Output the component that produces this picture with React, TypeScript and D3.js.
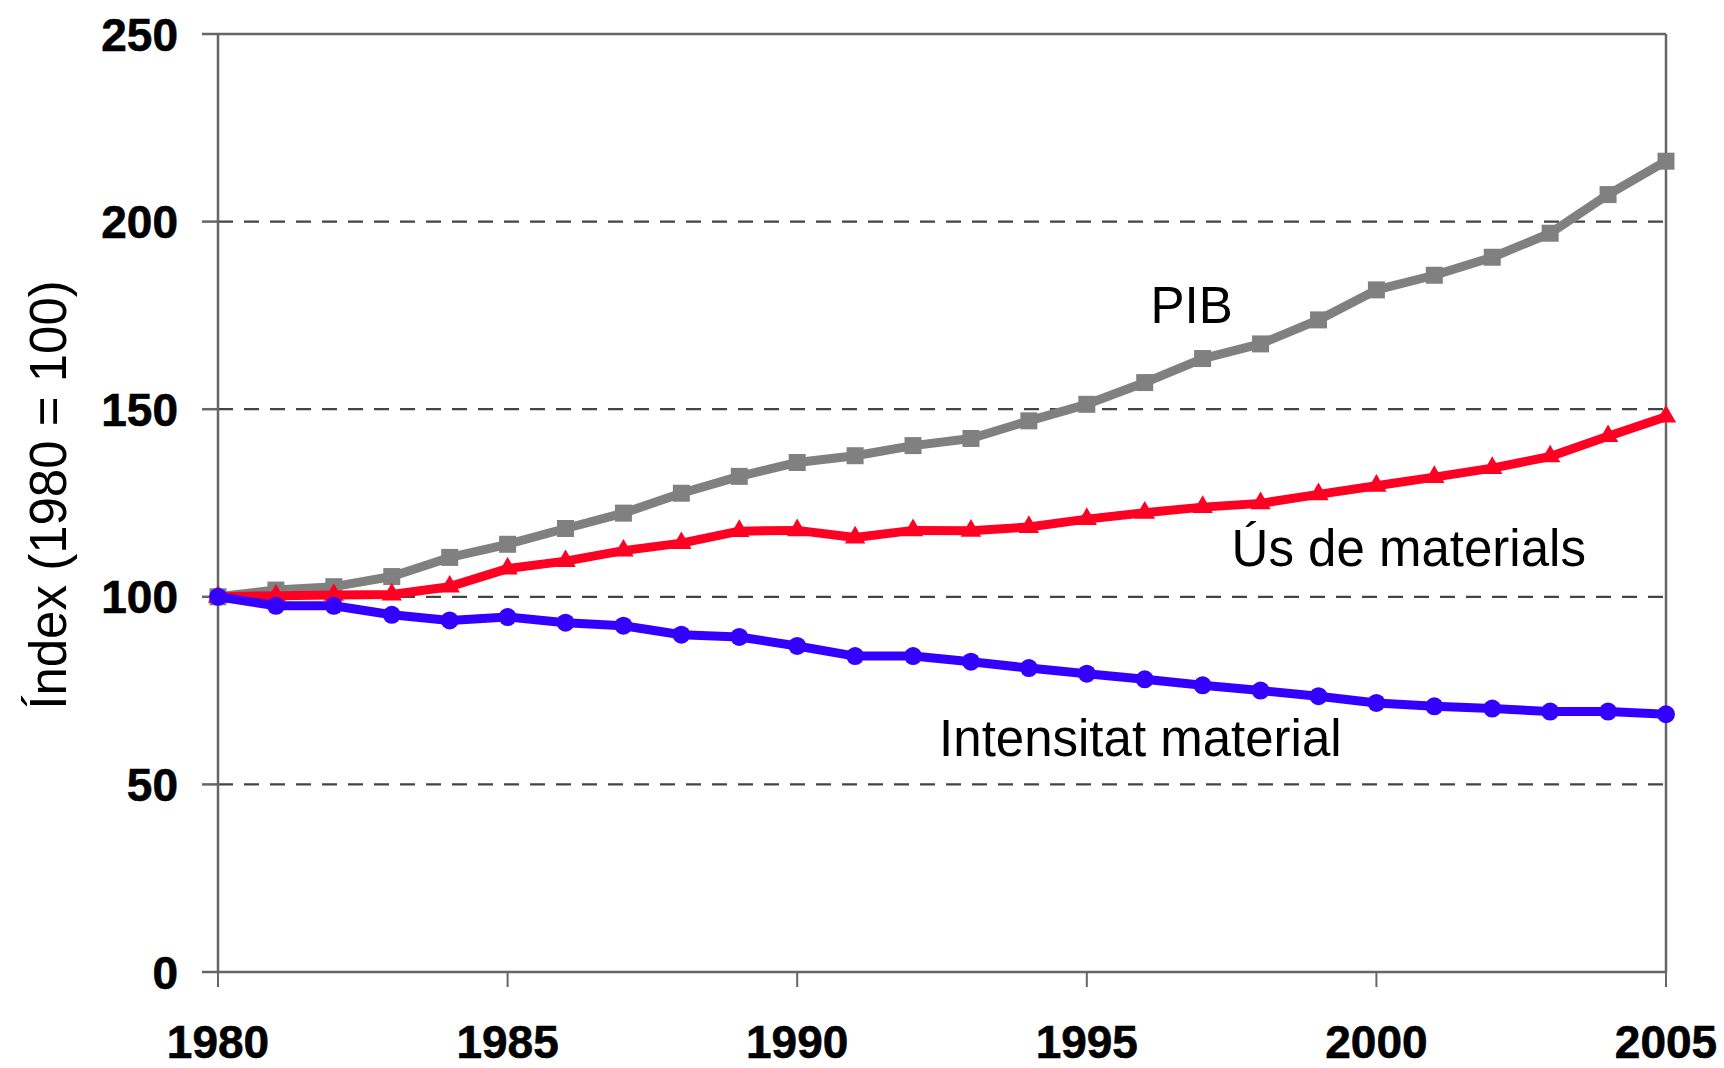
import React, { useEffect, useRef } from 'react';
import * as d3 from 'd3';

const years = [1980, 1981, 1982, 1983, 1984, 1985, 1986, 1987, 1988, 1989, 1990, 1991, 1992,
  1993, 1994, 1995, 1996, 1997, 1998, 1999, 2000, 2001, 2002, 2003, 2004, 2005];

const pib = [100, 101.8, 102.7, 105.4, 110.5, 114.0, 118.2, 122.3, 127.6, 132.1, 135.8, 137.6, 140.3,
  142.2, 146.9, 151.3, 157.1, 163.5, 167.4, 173.8, 181.8, 185.7, 190.5, 196.9, 207.2, 216.1];

const usMaterials = [100, 100.3, 100.5, 100.6, 102.7, 107.5, 109.5, 112.3, 114.3, 117.5, 117.7, 115.8, 117.7,
  117.6, 118.6, 120.7, 122.4, 123.9, 124.9, 127.3, 129.6, 131.9, 134.3, 137.4, 142.8, 148.0];

const intensitat = [100, 97.6, 97.6, 95.2, 93.7, 94.6, 93.1, 92.3, 89.9, 89.3, 86.9, 84.2, 84.2,
  82.7, 81.0, 79.5, 78.0, 76.4, 75.0, 73.5, 71.7, 70.8, 70.2, 69.4, 69.4, 68.7];

const yTicks = [0, 50, 100, 150, 200, 250];
const xTicks = [1980, 1985, 1990, 1995, 2000, 2005];

// label anchors in data units (year, index)
const seriesLabels = [
  { text: 'PIB', year: 1996.1, value: 173 },
  { text: 'Ús de materials', year: 1997.5, value: 108.1 },
  { text: 'Intensitat material', year: 1992.45, value: 57.6 }
];

const FONT = '"Liberation Sans", Arial, Helvetica, sans-serif';

export default function App() {
  const svgRef = useRef<SVGSVGElement>(null);
  const width = 1724;
  const height = 1068;

  useEffect(() => {
    if (!svgRef.current) return;
    const svg = d3.select(svgRef.current);
    svg.selectAll('*').remove();

    const margin = { top: 34, right: 58, bottom: 96, left: 218 };
    const x = d3.scaleLinear().domain([1980, 2005]).range([margin.left, width - margin.right]);
    const y = d3.scaleLinear().domain([0, 250]).range([height - margin.bottom, margin.top]);

    const axisColor = '#666';

    // dashed gridlines
    svg.append('g')
      .selectAll('line')
      .data(yTicks.filter(t => t > 0 && t < 250))
      .join('line')
      .attr('x1', x(1980))
      .attr('x2', x(2005))
      .attr('y1', d => y(d))
      .attr('y2', d => y(d))
      .attr('stroke', '#444')
      .attr('stroke-width', 2.2)
      .attr('stroke-dasharray', '15,11');

    // frame: top and right
    svg.append('line')
      .attr('x1', x(1980)).attr('x2', x(2005))
      .attr('y1', y(250)).attr('y2', y(250))
      .attr('stroke', axisColor).attr('stroke-width', 2.5);
    svg.append('line')
      .attr('x1', x(2005)).attr('x2', x(2005))
      .attr('y1', y(250)).attr('y2', y(0))
      .attr('stroke', axisColor).attr('stroke-width', 2.5);

    // y axis
    const yAxis = svg.append('g');
    yAxis.append('line')
      .attr('x1', x(1980)).attr('x2', x(1980))
      .attr('y1', y(250)).attr('y2', y(0))
      .attr('stroke', axisColor).attr('stroke-width', 2.5);
    yAxis.selectAll('line.tick')
      .data(yTicks)
      .join('line')
      .attr('class', 'tick')
      .attr('x1', x(1980) - 16).attr('x2', x(1980))
      .attr('y1', d => y(d)).attr('y2', d => y(d))
      .attr('stroke', axisColor).attr('stroke-width', 2.5);
    yAxis.selectAll('text')
      .data(yTicks)
      .join('text')
      .attr('x', x(1980) - 40)
      .attr('y', d => y(d) + 16.5)
      .attr('text-anchor', 'end')
      .attr('font-family', FONT)
      .attr('font-weight', 'bold')
      .attr('font-size', 46)
      .attr('fill', '#000')
      .attr('stroke', '#000')
      .attr('stroke-width', 0.6)
      .text(d => d);

    // x axis
    const xAxis = svg.append('g');
    xAxis.append('line')
      .attr('x1', x(1980)).attr('x2', x(2005))
      .attr('y1', y(0)).attr('y2', y(0))
      .attr('stroke', axisColor).attr('stroke-width', 2.5);
    xAxis.selectAll('line.tick')
      .data(xTicks)
      .join('line')
      .attr('class', 'tick')
      .attr('x1', d => x(d)).attr('x2', d => x(d))
      .attr('y1', y(0)).attr('y2', y(0) + 15)
      .attr('stroke', axisColor).attr('stroke-width', 2);
    xAxis.selectAll('text')
      .data(xTicks)
      .join('text')
      .attr('x', d => x(d))
      .attr('y', y(0) + 86)
      .attr('text-anchor', 'middle')
      .attr('font-family', FONT)
      .attr('font-weight', 'bold')
      .attr('font-size', 46)
      .attr('fill', '#000')
      .attr('stroke', '#000')
      .attr('stroke-width', 0.6)
      .text(d => d);

    // y axis title
    svg.append('text')
      .attr('transform', `translate(66, ${(y(250) + y(0)) / 2 - 8}) rotate(-90)`)
      .attr('text-anchor', 'middle')
      .attr('font-family', FONT)
      .attr('font-size', 51)
      .attr('fill', '#000')
      .text('Índex (1980 = 100)');

    const line = d3.line<number>()
      .x((_, i) => x(years[i]))
      .y(d => y(d));

    const series = [
      { values: pib, color: '#808080', symbol: d3.symbolSquare, size: 289 },
      { values: usMaterials, color: '#ff0022', symbol: d3.symbolTriangle, size: 180 },
      { values: intensitat, color: '#3300ff', symbol: d3.symbolCircle, size: 254 }
    ];

    series.forEach(s => {
      const g = svg.append('g');
      g.append('path')
        .datum(s.values)
        .attr('d', line)
        .attr('fill', 'none')
        .attr('stroke', s.color)
        .attr('stroke-width', 9)
        .attr('stroke-linejoin', 'round');
      const sym = d3.symbol().type(s.symbol).size(s.size);
      g.selectAll('path.marker')
        .data(s.values)
        .join('path')
        .attr('class', 'marker')
        .attr('d', sym)
        .attr('transform', (d, i) => `translate(${x(years[i])},${y(d)})`)
        .attr('fill', s.color);
    });

    // series labels
    svg.append('g')
      .selectAll('text')
      .data(seriesLabels)
      .join('text')
      .attr('x', d => x(d.year))
      .attr('y', d => y(d.value))
      .attr('font-family', FONT)
      .attr('font-size', 51)
      .attr('fill', '#000')
      .text(d => d.text);
  }, []);

  return (
    <svg
      ref={svgRef}
      width={width}
      height={height}
      viewBox={`0 0 ${width} ${height}`}
      style={{ position: 'absolute', left: 0, top: 0, background: '#fff', display: 'block' }}
    />
  );
}
